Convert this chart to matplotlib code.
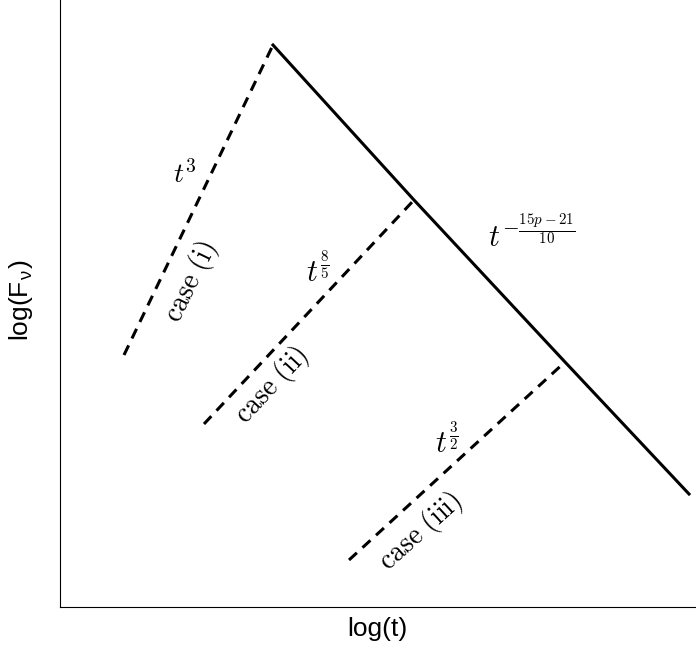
import matplotlib

matplotlib.use("Agg")
import matplotlib.pyplot as plt

plt.rcParams["font.family"] = ["Liberation Sans", "DejaVu Sans"]
plt.rcParams["mathtext.fontset"] = "cm"

# schematic light curve, arbitrary log units
decay_x = [213, 354, 505, 629]
decay_y = [562, 407, 245, 113]

case_i_x = [64, 213]
case_i_y = [252, 562]
case_ii_x = [144, 354]
case_ii_y = [183, 407]
case_iii_x = [289, 505]
case_iii_y = [47, 245]

fig = plt.figure(figsize=(6.96, 6.51), dpi=100)
ax = fig.add_axes([60 / 696, 44 / 651, 700 / 696, 650 / 651])
ax.set_xlim(0, 700)
ax.set_ylim(0, 650)

ax.plot(decay_x, decay_y, color="black", lw=2.2)
for xs, ys in [(case_i_x, case_i_y), (case_ii_x, case_ii_y), (case_iii_x, case_iii_y)]:
    ax.plot(xs, ys, color="black", lw=2.2, ls=(0, (3.5, 2.5)))

tkw = dict(ha="center", va="center", fontsize=20)
ax.text(125, 432, r"$t^{3}$", **tkw)
ax.text(131, 325, r"$\mathrm{case\ (i)}$", rotation=64, **tkw)
ax.text(258, 337, r"$t^{\frac{8}{5}}$", fontsize=22, ha="center", va="center")
ax.text(212, 222, r"$\mathrm{case\ (ii)}$", rotation=47, **tkw)
ax.text(387, 166, r"$t^{\frac{3}{2}}$", fontsize=22, ha="center", va="center")
ax.text(361, 75, r"$\mathrm{case\ (iii)}$", rotation=42, **tkw)
ax.text(472, 372, r"$t^{-\frac{15p-21}{10}}$", fontsize=22, ha="center", va="center")

ax.set_xticks([])
ax.set_yticks([])
for side in ("top", "right"):
    ax.spines[side].set_visible(False)
ax.set_xlabel("log(t)", fontsize=19)
ax.xaxis.set_label_coords(317 / 700, -10 / 650)
ax.set_ylabel(r"log(F$_{\mathregular{ν}}$)", fontsize=19)
ax.yaxis.set_label_coords(-25 / 700, 307 / 650)

fig.savefig("out.png", dpi=100)
